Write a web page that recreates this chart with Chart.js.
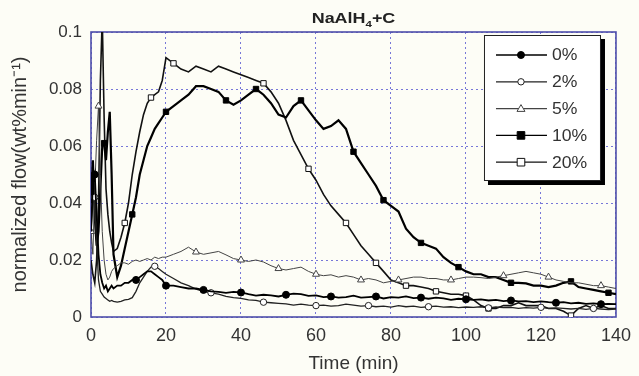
<!DOCTYPE html>
<html>
<head>
<meta charset="utf-8">
<style>
  html, body { margin: 0; padding: 0; background: #fdfdf6; }
  canvas { display: block; }
</style>
<script src="https://cdn.jsdelivr.net/npm/chart.js@4"></script>
</head>
<body>
<canvas id="flowChart" width="639" height="376"></canvas>
<script>
// time axis (min)
const times = [
  0, 0.5, 1, 1.5, 2, 2.5, 3, 3.5, 4, 4.5, 5, 5.5, 6,
  7, 8, 9, 10, 11, 12, 13, 14, 15, 16, 17, 18, 19, 20,
  22, 24, 26, 28, 30, 32, 34, 36, 38, 40, 42, 44, 46, 48, 50, 52, 54, 56, 58, 60,
  62, 64, 66, 68, 70, 72, 74, 76, 78, 80, 82, 84, 86, 88, 90, 92, 94, 96, 98, 100,
  102, 104, 106, 108, 110, 112, 114, 116, 118, 120, 122, 124, 126, 128, 130, 132, 134, 136, 138, 140
];

// normalized flow (wt%/min) per carbon content
const flow0 = [
  0.030, 0.047, 0.050, 0.036, 0.022, 0.015, 0.012, 0.010, 0.011, 0.009, 0.010, 0.011, 0.010,
  0.011, 0.011, 0.012, 0.012, 0.013, 0.013, 0.014, 0.015, 0.016, 0.016, 0.015, 0.014, 0.013, 0.011,
  0.011, 0.0105, 0.010, 0.010, 0.0095, 0.009, 0.0088, 0.0085, 0.0088, 0.0086, 0.008, 0.0075, 0.0078, 0.0076, 0.0072, 0.0078, 0.0082, 0.008, 0.0074, 0.0076,
  0.007, 0.0072, 0.0068, 0.007, 0.0075, 0.0068, 0.007, 0.0072, 0.0065, 0.007, 0.0068, 0.0072, 0.0066, 0.0068, 0.0064, 0.0068, 0.0065, 0.006, 0.0064, 0.0062,
  0.006, 0.0062, 0.0058, 0.006, 0.0056, 0.0058, 0.0055, 0.0056, 0.0052, 0.0055, 0.0052, 0.005, 0.0052, 0.0048, 0.005, 0.0046, 0.0048, 0.0045, 0.0046, 0.0045
];
const flow2 = [
  0.030, 0.040, 0.042, 0.026, 0.013, 0.009, 0.008, 0.007, 0.0065, 0.006, 0.0055, 0.0058, 0.0055,
  0.0052, 0.0055, 0.006, 0.0062, 0.0068, 0.009, 0.012, 0.014, 0.016, 0.0175, 0.0178, 0.017, 0.016, 0.015,
  0.0135, 0.012, 0.011, 0.0098, 0.009, 0.0085, 0.008, 0.0072, 0.0068, 0.0065, 0.006, 0.0058, 0.0052, 0.005, 0.0048, 0.0046, 0.0042, 0.0045, 0.0042, 0.004,
  0.0042, 0.0038, 0.004, 0.0045, 0.0042, 0.0038, 0.004, 0.0036, 0.0038, 0.0035, 0.004, 0.0036, 0.0038, 0.0034, 0.0036, 0.0038, 0.0035, 0.0036, 0.0033, 0.0035,
  0.0034, 0.0036, 0.0032, 0.0035, 0.0033, 0.0034, 0.003, 0.0033, 0.0031, 0.0034, 0.003, 0.0032, 0.003, 0.0028, 0.003, 0.0027, 0.003, 0.0028, 0.0026, 0.0028
];
const flow5 = [
  0.030, 0.022, 0.045, 0.062, 0.074, 0.050, 0.030, 0.020, 0.015, 0.013, 0.014, 0.016, 0.017,
  0.018, 0.019, 0.019, 0.0185, 0.0195, 0.020, 0.0195, 0.020, 0.0205, 0.020, 0.021, 0.0205, 0.021, 0.021,
  0.022, 0.023, 0.0245, 0.0228, 0.022, 0.0225, 0.023, 0.0218, 0.0205, 0.020, 0.0195, 0.020, 0.0193, 0.018, 0.017, 0.0165, 0.017, 0.0175, 0.016, 0.015,
  0.0145, 0.0148, 0.014, 0.0145, 0.014, 0.013, 0.0135, 0.013, 0.012, 0.0125, 0.013, 0.0135, 0.014, 0.014, 0.0135, 0.0135, 0.013, 0.013, 0.0135, 0.014,
  0.014, 0.0138, 0.0135, 0.014, 0.0145, 0.015, 0.0155, 0.016, 0.0155, 0.015, 0.014, 0.013, 0.0125, 0.012, 0.012, 0.0115, 0.011, 0.011, 0.0105, 0.010
];
const flow10 = [
  0.040, 0.055, 0.035, 0.025, 0.030, 0.045, 0.060, 0.061, 0.055, 0.065, 0.072, 0.050, 0.022,
  0.014, 0.018, 0.024, 0.030, 0.036, 0.042, 0.050, 0.055, 0.060, 0.063, 0.066, 0.068, 0.070, 0.072,
  0.074, 0.076, 0.078, 0.081, 0.081, 0.080, 0.079, 0.076, 0.0745, 0.076, 0.078, 0.080, 0.078, 0.075, 0.071, 0.070, 0.074, 0.076, 0.0725, 0.069,
  0.066, 0.067, 0.069, 0.066, 0.058, 0.054, 0.050, 0.046, 0.041, 0.039, 0.037, 0.031, 0.028, 0.026, 0.025, 0.024, 0.021, 0.019, 0.0175, 0.016,
  0.015, 0.015, 0.014, 0.014, 0.013, 0.012, 0.012, 0.0118, 0.011, 0.011, 0.0105, 0.011, 0.012, 0.0125, 0.0105, 0.010, 0.0095, 0.009, 0.0085, 0.008
];
const flow20 = [
  0.020, 0.015, 0.012, 0.020, 0.040, 0.083, 0.105, 0.070, 0.045, 0.036, 0.030, 0.026, 0.023,
  0.024, 0.028, 0.033, 0.040, 0.050, 0.058, 0.065, 0.071, 0.075, 0.077, 0.078, 0.079, 0.083, 0.091,
  0.089, 0.087, 0.086, 0.088, 0.087, 0.086, 0.088, 0.087, 0.086, 0.085, 0.084, 0.083, 0.082, 0.079, 0.075, 0.069, 0.062, 0.057, 0.052, 0.048,
  0.043, 0.039, 0.036, 0.033, 0.029, 0.025, 0.022, 0.019, 0.016, 0.013, 0.012, 0.011, 0.011, 0.0105, 0.010, 0.009, 0.0085, 0.008, 0.008, 0.0075,
  0.006, 0.004, 0.003, 0.003, 0.004, 0.004, 0.005, 0.004, 0.004, 0.004, 0.003, 0.003, 0.002, 0.0005, 0.003, 0.004, 0.003, 0.004, 0.003, 0.003
];

// times at which a marker is drawn on each curve
const mark0 = [1, 12, 20, 30, 40, 52, 64, 76, 88, 100, 112, 124, 136];
const mark2 = [1, 17, 32, 46, 60, 74, 90, 106, 120, 134];
const mark5 = [0, 2, 28, 40, 50, 60, 72, 82, 96, 110, 122, 136];
const mark10 = [3.5, 11, 20, 36, 44, 56, 70, 78, 88, 98, 112, 128, 138];
const mark20 = [3, 9, 16, 22, 46, 58, 68, 76, 84, 92, 100, 106, 128];

const labels = ['0%', '2%', '5%', '10%', '20%'];
const xTickLabels = ['0', '20', '40', '60', '80', '100', '120', '140'];
const yTickLabels = ['0', '0.02', '0.04', '0.06', '0.08', '0.1'];

const FONT = "'Liberation Sans', Arial, sans-serif";
const AXIS_BLUE = 'rgb(78, 78, 170)';
const GRID_BLUE = 'rgba(95, 95, 210, 0.85)';

const series = [
  { label: labels[0], data: flow0, marks: mark0, style: 'circle',   fill: '#000', color: '#000', width: 1.8, r: 3.5 },
  { label: labels[1], data: flow2, marks: mark2, style: 'circle',   fill: '#fff', color: '#222', width: 1.3, r: 3.2 },
  { label: labels[2], data: flow5, marks: mark5, style: 'triangle', fill: '#fff', color: '#444', width: 1,   r: 4 },
  { label: labels[3], data: flow10, marks: mark10, style: 'rect',   fill: '#000', color: '#000', width: 2.2, r: 3.8 },
  { label: labels[4], data: flow20, marks: mark20, style: 'rect',   fill: '#fff', color: '#111', width: 1.6, r: 3.8 }
];

const datasets = series.map(s => ({
  label: s.label,
  data: s.data.map((v, i) => ({ x: times[i], y: v })),
  borderColor: s.color,
  borderWidth: s.width,
  backgroundColor: s.fill,
  pointStyle: s.style,
  pointBackgroundColor: s.fill,
  pointBorderColor: s.color,
  pointBorderWidth: 1,
  pointRadius: ctx => s.marks.includes(times[ctx.dataIndex]) ? s.r : 0,
  tension: 0,
  fill: false
}));

// cream page background
const backgroundPlugin = {
  id: 'background',
  beforeDraw(chart) {
    const ctx = chart.ctx;
    ctx.save();
    ctx.fillStyle = '#fdfdf6';
    ctx.fillRect(0, 0, chart.width, chart.height);
    ctx.restore();
  }
};

// solid box round the plot, MATLAB style
const framePlugin = {
  id: 'frame',
  beforeDatasetsDraw(chart) {
    const { ctx, chartArea: a } = chart;
    ctx.save();
    ctx.strokeStyle = AXIS_BLUE;
    ctx.lineWidth = 1.6;
    ctx.strokeRect(a.left, a.top, a.right - a.left, a.bottom - a.top);
    ctx.restore();
  }
};

// title with subscript
const titlePlugin = {
  id: 'formulaTitle',
  afterDraw(chart) {
    const { ctx, chartArea: a } = chart;
    const parts = [
      { t: 'NaAlH', size: 14, dy: 0 },
      { t: '4', size: 9, dy: 4 },
      { t: '+C', size: 14, dy: 0 }
    ];
    ctx.save();
    ctx.fillStyle = '#222';
    ctx.textBaseline = 'alphabetic';
    let w = 0;
    parts.forEach(p => { ctx.font = 'bold ' + p.size + 'px ' + FONT; w += ctx.measureText(p.t).width; });
    const sx = 1.28;
    const cx = (a.left + a.right) / 2;
    ctx.translate(cx - w * sx / 2, 23);
    ctx.scale(sx, 1);
    let x = 0;
    parts.forEach(p => {
      ctx.font = 'bold ' + p.size + 'px ' + FONT;
      ctx.fillText(p.t, x, p.dy);
      x += ctx.measureText(p.t).width;
    });
    ctx.restore();
  }
};

function drawMarker(ctx, s, x, y) {
  ctx.fillStyle = s.fill;
  ctx.strokeStyle = s.color;
  ctx.lineWidth = 1;
  ctx.beginPath();
  if (s.style === 'circle') {
    ctx.arc(x, y, s.r, 0, Math.PI * 2);
  } else if (s.style === 'rect') {
    ctx.rect(x - s.r, y - s.r, s.r * 2, s.r * 2);
  } else {
    ctx.moveTo(x, y - s.r);
    ctx.lineTo(x + s.r, y + s.r * 0.7);
    ctx.lineTo(x - s.r, y + s.r * 0.7);
    ctx.closePath();
  }
  ctx.fill();
  ctx.stroke();
}

// boxed legend with shadow, top right inside the plot
const legendPlugin = {
  id: 'boxLegend',
  afterDraw(chart) {
    const { ctx, chartArea: a } = chart;
    const left = a.right - 132, top = a.top + 3, w = 117, h = 146;
    ctx.save();
    ctx.fillStyle = '#000';
    ctx.fillRect(left + 4, top + 4, w, h);
    ctx.fillStyle = '#fff';
    ctx.fillRect(left, top, w, h);
    ctx.strokeStyle = '#222';
    ctx.lineWidth = 1;
    ctx.strokeRect(left + 0.5, top + 0.5, w - 1, h - 1);
    series.forEach((s, i) => {
      const y = top + 20 + i * 26.8;
      ctx.strokeStyle = s.color;
      ctx.lineWidth = 1.3;
      ctx.beginPath();
      ctx.moveTo(left + 12, y);
      ctx.lineTo(left + 63, y);
      ctx.stroke();
      drawMarker(ctx, s, left + 37, y);
      ctx.save();
      ctx.fillStyle = '#333';
      ctx.font = '16px ' + FONT;
      ctx.textBaseline = 'middle';
      ctx.translate(left + 68, y + 1);
      ctx.scale(1.1, 1);
      ctx.fillText(s.label, 0, 0);
      ctx.restore();
    });
    ctx.restore();
  }
};

new Chart(document.getElementById('flowChart'), {
  type: 'line',
  data: { datasets },
  options: {
    responsive: false,
    animation: false,
    layout: { padding: { top: 32, right: 12, left: 0, bottom: 0 } },
    plugins: { legend: { display: false }, tooltip: { enabled: false } },
    scales: {
      x: {
        type: 'linear',
        min: 0,
        max: 140,
        afterFit: s => { s.height = 59; },
        ticks: {
          stepSize: 20,
          padding: 8,
          color: '#333',
          font: { family: FONT, size: 18 },
          maxRotation: 0,
          callback: (v, i) => xTickLabels[i]
        },
        grid: { color: GRID_BLUE, lineWidth: 1, drawTicks: false },
        border: { display: false, dash: [2, 3] },
        title: {
          display: true,
          text: 'Time (min)',
          color: '#333',
          font: { family: FONT, size: 19 },
          padding: { top: 0, bottom: 1 }
        }
      },
      y: {
        min: 0,
        max: 0.1,
        afterFit: s => { s.width = 91; },
        ticks: {
          stepSize: 0.02,
          padding: 9,
          color: '#333',
          font: { family: FONT, size: 17 },
          callback: (v, i) => yTickLabels[i]
        },
        grid: { color: GRID_BLUE, lineWidth: 1, drawTicks: false },
        border: { display: false, dash: [2, 3] },
        title: {
          display: true,
          text: 'normalized flow(wt%min\u207B\u00B9)',
          color: '#333',
          font: { family: FONT, size: 20 },
          padding: { top: 8, bottom: 0 }
        }
      }
    }
  },
  plugins: [backgroundPlugin, framePlugin, titlePlugin, legendPlugin]
});
</script>
</body>
</html>
